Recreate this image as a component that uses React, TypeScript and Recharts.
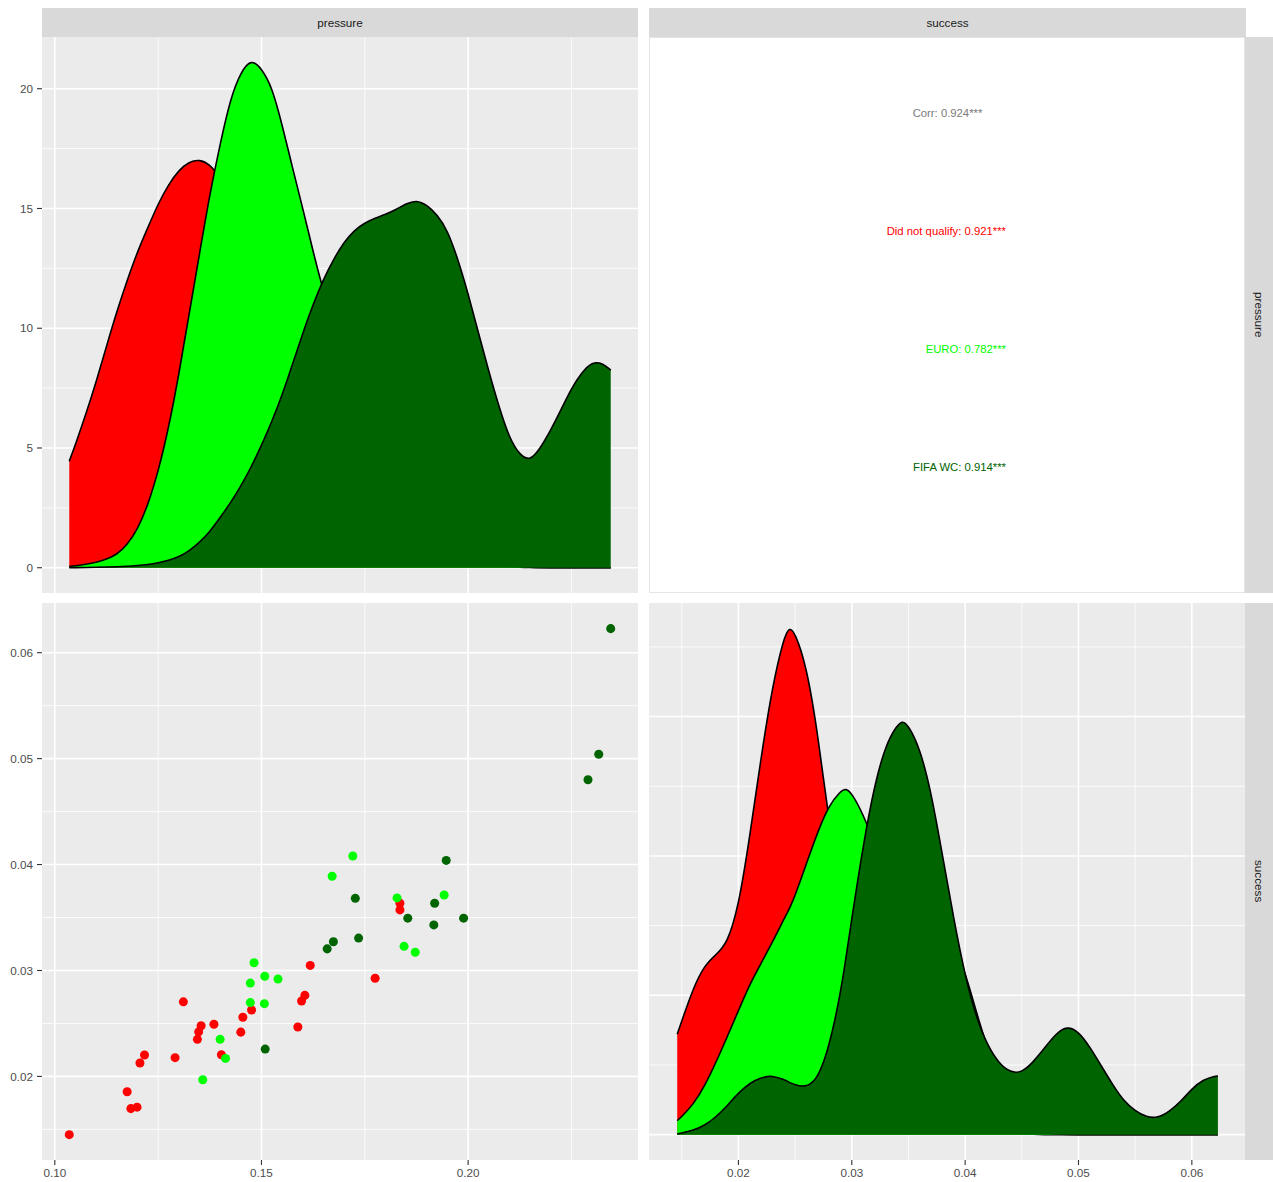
import React from 'react';
import { ComposedChart, ScatterChart, Area, Scatter, XAxis, YAxis, CartesianGrid } from 'recharts';

const FONT = '"Liberation Sans", Arial, Helvetica, sans-serif';

// Colours of the three groups
const RED = '#FF0000';
const GREEN = '#00FF00';
const DARK = '#006400';

// ---------- pressure density (top-left) ----------
const pressureGrid = [0.1035, 0.105, 0.1075, 0.11, 0.1125, 0.115, 0.1175, 0.12, 0.1225, 0.125, 0.1275, 0.13, 0.1325, 0.135, 0.1375, 0.14, 0.1425, 0.145, 0.1475, 0.15, 0.1525, 0.155, 0.1575, 0.16, 0.1625, 0.165, 0.1675, 0.17, 0.1725, 0.175, 0.1775, 0.18, 0.1825, 0.185, 0.1875, 0.19, 0.1925, 0.195, 0.1975, 0.2, 0.2025, 0.205, 0.2075, 0.21, 0.2125, 0.215, 0.2175, 0.22, 0.2225, 0.225, 0.2275, 0.23, 0.2325, 0.2345];
const pressureRed = [4.45, 5.15, 6.4, 7.75, 9.25, 10.7, 12.0, 13.2, 14.2, 15.2, 16.0, 16.6, 16.95, 17.05, 16.85, 16.3, 15.5, 14.6, 13.6, 12.6, 11.6, 10.6, 9.7, 9.0, 8.3, 7.6, 6.9, 6.2, 5.6, 5.1, 4.7, 4.4, 4.1, 3.8, 3.2, 2.5, 1.9, 1.3, 0.9, 0.6, 0.35, 0.2, 0.1, 0.05, 0.02, 0.01, 0, 0, 0, 0, 0, 0, 0, 0];
const pressureGreen = [0.05, 0.08, 0.14, 0.22, 0.35, 0.55, 0.95, 1.6, 2.6, 4.0, 5.8, 8.05, 10.6, 13.1, 15.6, 17.7, 19.6, 20.7, 21.25, 20.85, 20.1, 18.5, 16.7, 15.0, 13.2, 11.5, 10.3, 9.3, 8.6, 8.2, 8.0, 8.0, 7.9, 7.5, 6.8, 5.8, 4.6, 3.4, 2.3, 1.5, 0.9, 0.5, 0.25, 0.1, 0.05, 0.02, 0.01, 0, 0, 0, 0, 0, 0, 0];
const pressureDark = [0, 0.005, 0.01, 0.02, 0.03, 0.04, 0.06, 0.09, 0.13, 0.2, 0.3, 0.45, 0.7, 1.05, 1.5, 2.1, 2.7, 3.4, 4.2, 5.1, 6.1, 7.2, 8.5, 9.8, 11.0, 12.05, 12.9, 13.6, 14.1, 14.4, 14.6, 14.75, 14.95, 15.2, 15.35, 15.15, 14.75, 14.1, 12.9, 11.45, 9.8, 8.2, 6.7, 5.4, 4.7, 4.45, 5.0, 5.75, 6.6, 7.5, 8.15, 8.6, 8.55, 8.25];

// ---------- success density (bottom-right) ----------
const successGrid = [0.0146, 0.015, 0.016, 0.017, 0.018, 0.019, 0.02, 0.021, 0.022, 0.023, 0.024, 0.0245, 0.025, 0.026, 0.027, 0.028, 0.029, 0.0295, 0.03, 0.031, 0.032, 0.033, 0.034, 0.0345, 0.035, 0.036, 0.037, 0.038, 0.039, 0.04, 0.041, 0.042, 0.043, 0.044, 0.045, 0.046, 0.047, 0.048, 0.049, 0.05, 0.051, 0.052, 0.053, 0.054, 0.055, 0.056, 0.057, 0.058, 0.059, 0.06, 0.061, 0.062, 0.0623];
const successRed = [14.4, 16.3, 21.0, 24.3, 25.8, 27.4, 32.6, 42.8, 54.2, 64.4, 71.3, 72.9, 72.0, 67.3, 57.6, 44.7, 35, 31, 28, 23, 19.5, 17.5, 16.5, 16, 15.5, 14.5, 12.5, 9.5, 6.5, 4.2, 2.6, 1.5, 0.8, 0.35, 0.15, 0.05, 0, 0, 0, 0, 0, 0, 0, 0, 0, 0, 0, 0, 0, 0, 0, 0, 0];
const successGreen = [2.0, 2.6, 4.3, 6.9, 10.3, 14.0, 17.8, 21.6, 24.6, 27.6, 30.9, 32.4, 34.3, 38.9, 43.5, 47.3, 49.3, 49.7, 49.0, 46.0, 41.8, 38, 35, 34, 33, 32, 31, 29.5, 27, 23.4, 17.5, 12.2, 7.5, 4.0, 1.8, 0.7, 0.25, 0.08, 0, 0, 0, 0, 0, 0, 0, 0, 0, 0, 0, 0, 0, 0, 0];
const successDark = [0.1, 0.25, 0.6, 1.3, 2.5, 4.1, 6.0, 7.4, 8.2, 8.5, 7.9, 7.5, 7.1, 6.8, 8.0, 12.5, 20.2, 25.5, 31.0, 41.5, 50.2, 56.0, 58.8, 59.4, 58.7, 55.5, 49.2, 40.1, 30.9, 22.7, 16.7, 12.7, 10.2, 8.9, 8.9, 10.4, 12.4, 14.5, 15.6, 14.8, 12.6, 9.9, 7.2, 4.8, 3.4, 2.5, 2.4, 3.3, 4.7, 6.6, 7.9, 8.4, 8.4];

// ---------- scatter points (bottom-left) ----------
const redPressure = [0.1035, 0.1175, 0.1184, 0.1199, 0.1206, 0.1217, 0.1291, 0.1311, 0.1345, 0.1348, 0.1354, 0.1385, 0.1403, 0.145, 0.1455, 0.1476, 0.1588, 0.1597, 0.1605, 0.1618, 0.1775, 0.1835, 0.1835];
const redSuccess = [0.0145, 0.01855, 0.01696, 0.0171, 0.02127, 0.02202, 0.02177, 0.02704, 0.0235, 0.02421, 0.02478, 0.02492, 0.02205, 0.02418, 0.02559, 0.02627, 0.02467, 0.02712, 0.02765, 0.03048, 0.02927, 0.03635, 0.03572];
const greenPressure = [0.1358, 0.14, 0.1413, 0.1473, 0.1473, 0.1482, 0.1507, 0.1508, 0.154, 0.1671, 0.1721, 0.1828, 0.1845, 0.1872, 0.1942];
const greenSuccess = [0.01968, 0.0235, 0.0217, 0.02697, 0.02881, 0.03073, 0.02687, 0.02945, 0.0292, 0.0389, 0.04081, 0.03685, 0.03228, 0.03172, 0.03713];
const darkPressure = [0.1509, 0.1659, 0.1674, 0.1727, 0.1735, 0.1854, 0.1917, 0.1919, 0.1947, 0.1989, 0.229, 0.2316, 0.2345];
const darkSuccess = [0.02258, 0.03204, 0.03271, 0.03681, 0.03306, 0.03494, 0.0343, 0.03635, 0.04039, 0.03494, 0.048, 0.05041, 0.06227];

// ---------- axes ----------
const pressureDomain = [0.0969, 0.2411];
const successDomain = [0.01211, 0.06469];
const pressureDensDomain = [-1.055, 22.16];
const successDensDomain = [-3.64, 76.3];
const pressureTicks = [0.1, 0.15, 0.2];
const pressureMinor = [0.125, 0.175, 0.225];
const successTicks = [0.02, 0.03, 0.04, 0.05, 0.06];
const successMinor = [0.015, 0.025, 0.035, 0.045, 0.055, 0.065];
const pDensTicks = [0, 5, 10, 15, 20];
const pDensMinor = [2.5, 7.5, 12.5, 17.5];
const sDensTicks = [0, 20, 40, 60];
const sDensMinor = [10, 30, 50, 70];

// correlation labels
const corrLabels = [
  { text: 'Did not qualify: 0.921***', color: RED },
  { text: 'EURO: 0.782***', color: GREEN },
  { text: 'FIFA WC: 0.914***', color: DARK },
];
const overallCorr = 'Corr: 0.924***';

const pressureData = pressureGrid.map((x, i) => ({ x, red: pressureRed[i], green: pressureGreen[i], dark: pressureDark[i] }));
const successData = successGrid.map((x, i) => ({ x, red: successRed[i], green: successGreen[i], dark: successDark[i] }));
const redPts = redPressure.map((p, i) => ({ p, s: redSuccess[i] }));
const greenPts = greenPressure.map((p, i) => ({ p, s: greenSuccess[i] }));
const darkPts = darkPressure.map((p, i) => ({ p, s: darkSuccess[i] }));

const tickStyle = { fill: '#4D4D4D', fontSize: 11.7, fontFamily: FONT };
const tickLineStyle = { stroke: '#333333', strokeWidth: 1.1 };
const fmt2 = (v: number) => v.toFixed(2);

const stripBase: React.CSSProperties = {
  position: 'absolute',
  background: '#D9D9D9',
  color: '#1A1A1A',
  fontSize: 11.7,
  fontFamily: FONT,
  display: 'flex',
  alignItems: 'center',
  justifyContent: 'center',
  boxSizing: 'border-box',
};

export default function App() {
  const areaCommon = { type: 'basis' as const, stroke: '#000000', strokeWidth: 1.6, fillOpacity: 1, baseValue: 0, dot: false, activeDot: false, isAnimationActive: false };
  return (
    <div style={{ position: 'absolute', left: 0, top: 0, width: 1273, height: 1182, background: '#FFFFFF', fontFamily: FONT, overflow: 'hidden' }}>
      {/* strips */}
      <div style={{ ...stripBase, left: 42, top: 8, width: 596, height: 29 }}>pressure</div>
      <div style={{ ...stripBase, left: 649, top: 8, width: 597, height: 29 }}>success</div>
      <div style={{ ...stripBase, left: 1245, top: 37, width: 28, height: 556 }}>
        <span style={{ writingMode: 'vertical-rl' }}>pressure</span>
      </div>
      <div style={{ ...stripBase, left: 1245, top: 603, width: 28, height: 557 }}>
        <span style={{ writingMode: 'vertical-rl' }}>success</span>
      </div>

      {/* top-left: pressure density */}
      <div style={{ position: 'absolute', left: 0, top: 37 }}>
        <ComposedChart width={638} height={556} data={pressureData} margin={{ top: 0, right: 0, bottom: 0, left: 0 }}>
          <CartesianGrid fill="#EBEBEB" stroke="#FFFFFF" strokeWidth={0.8} horizontalValues={pDensMinor} verticalValues={pressureMinor} />
          <CartesianGrid stroke="#FFFFFF" strokeWidth={1.6} horizontalValues={pDensTicks} verticalValues={pressureTicks} />
          <XAxis dataKey="x" type="number" domain={pressureDomain} ticks={pressureTicks} hide />
          <YAxis type="number" domain={pressureDensDomain} ticks={pDensTicks} width={42} tickSize={5} tickMargin={4} tick={tickStyle} tickLine={tickLineStyle} axisLine={false} />
          <Area dataKey="red" fill={RED} {...areaCommon} />
          <Area dataKey="green" fill={GREEN} {...areaCommon} />
          <Area dataKey="dark" fill={DARK} {...areaCommon} />
        </ComposedChart>
      </div>

      {/* top-right: correlation text */}
      <div style={{ position: 'absolute', left: 649, top: 37, width: 596, height: 556, background: '#FFFFFF', border: '1px solid #E5E5E5', boxSizing: 'border-box' }}>
        <svg width={596} height={556} style={{ position: 'absolute', left: -1, top: -1 }}>
          <text x={298.5} y={76} textAnchor="middle" dominantBaseline="central" fill="#7A7A7A" fontSize={11.3} fontFamily={FONT}>{overallCorr}</text>
          {corrLabels.map((c, i) => (
            <text key={c.text} x={357} y={194 + i * 118} textAnchor="end" dominantBaseline="central" fill={c.color} fontSize={11.3} fontFamily={FONT}>{c.text}</text>
          ))}
        </svg>
      </div>

      {/* bottom-left: scatter */}
      <div style={{ position: 'absolute', left: 0, top: 603 }}>
        <ScatterChart width={638} height={579} margin={{ top: 0, right: 0, bottom: 0, left: 0 }}>
          <CartesianGrid fill="#EBEBEB" stroke="#FFFFFF" strokeWidth={0.8} horizontalValues={successMinor} verticalValues={pressureMinor} />
          <CartesianGrid stroke="#FFFFFF" strokeWidth={1.6} horizontalValues={successTicks} verticalValues={pressureTicks} />
          <XAxis dataKey="p" type="number" domain={pressureDomain} ticks={pressureTicks} tickFormatter={fmt2} height={22} tickSize={5} tickMargin={4} tick={tickStyle} tickLine={tickLineStyle} axisLine={false} />
          <YAxis dataKey="s" type="number" domain={successDomain} ticks={successTicks} tickFormatter={fmt2} width={42} tickSize={5} tickMargin={4} tick={tickStyle} tickLine={tickLineStyle} axisLine={false} />
          <Scatter data={redPts} fill={RED} isAnimationActive={false} />
          <Scatter data={greenPts} fill={GREEN} isAnimationActive={false} />
          <Scatter data={darkPts} fill={DARK} isAnimationActive={false} />
        </ScatterChart>
      </div>

      {/* bottom-right: success density */}
      <div style={{ position: 'absolute', left: 649, top: 603 }}>
        <ComposedChart width={596} height={579} data={successData} margin={{ top: 0, right: 0, bottom: 0, left: 0 }}>
          <CartesianGrid fill="#EBEBEB" stroke="#FFFFFF" strokeWidth={0.8} horizontalValues={sDensMinor} verticalValues={successMinor} />
          <CartesianGrid stroke="#FFFFFF" strokeWidth={1.6} horizontalValues={sDensTicks} verticalValues={successTicks} />
          <XAxis dataKey="x" type="number" domain={successDomain} ticks={successTicks} tickFormatter={fmt2} height={22} tickSize={5} tickMargin={4} tick={tickStyle} tickLine={tickLineStyle} axisLine={false} />
          <YAxis type="number" domain={successDensDomain} ticks={sDensTicks} hide />
          <Area dataKey="red" fill={RED} {...areaCommon} />
          <Area dataKey="green" fill={GREEN} {...areaCommon} />
          <Area dataKey="dark" fill={DARK} {...areaCommon} />
        </ComposedChart>
      </div>
    </div>
  );
}
